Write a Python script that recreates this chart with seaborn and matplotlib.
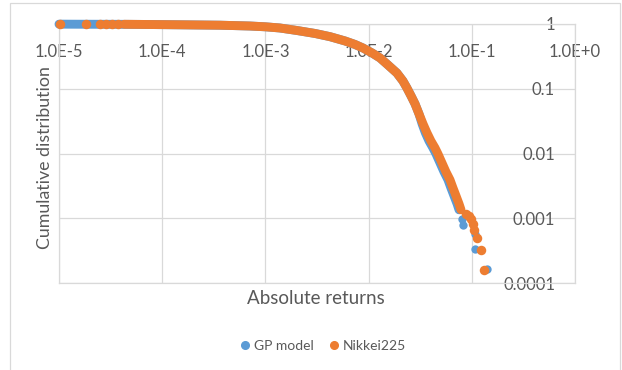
import matplotlib
matplotlib.use('Agg')
import matplotlib.pyplot as plt
import matplotlib.patches as patches
from matplotlib.lines import Line2D
from matplotlib.ticker import FixedLocator, FixedFormatter, NullLocator
import seaborn as sns
import pandas as pd

# absolute returns vs cumulative (survival) distribution
# dense part of each curve (drawn as a thick band)
nk_x = [4.27e-5, 6.10e-5, 1.49e-4, 3.63e-4, 7.09e-4, 1.0e-3, 1.38e-3, 2.02e-3, 3.03e-3,
        4.23e-3, 5.91e-3, 7.38e-3, 8.82e-3, 1.08e-2, 1.29e-2, 1.54e-2, 1.88e-2, 2.15e-2,
        2.35e-2, 2.58e-2, 2.82e-2, 3.08e-2, 3.37e-2, 3.68e-2, 4.02e-2, 4.40e-2, 4.70e-2,
        5.14e-2, 5.62e-2, 6.15e-2, 6.57e-2, 7.03e-2, 7.52e-2, 7.86e-2]
nk_y = [0.990, 0.985, 0.972, 0.958, 0.931, 0.905, 0.868, 0.794, 0.714,
        0.637, 0.547, 0.483, 0.426, 0.357, 0.299, 0.233, 0.175, 0.132,
        0.103, 0.0774, 0.0582, 0.0408, 0.0286, 0.0208, 0.0156, 0.0122, 0.00986,
        0.00716, 0.00520, 0.00392, 0.00294, 0.00222, 0.00167, 0.00135]
gp_x = [1.0e-5, 1.28e-5, 2.49e-5, 4.27e-5, 6.10e-5, 1.49e-4, 3.63e-4, 7.09e-4, 1.0e-3,
        1.38e-3, 2.02e-3, 3.03e-3, 4.23e-3, 5.91e-3, 7.38e-3, 8.82e-3, 1.08e-2, 1.29e-2,
        1.54e-2, 1.88e-2, 2.15e-2, 2.35e-2, 2.58e-2, 2.82e-2, 3.08e-2, 3.30e-2, 3.55e-2,
        3.85e-2, 4.20e-2, 4.50e-2, 4.92e-2, 5.38e-2, 5.88e-2, 6.28e-2, 6.72e-2, 7.20e-2,
        7.52e-2]
gp_y = [0.995, 0.993, 0.990, 0.988, 0.985, 0.972, 0.958, 0.931, 0.905,
        0.868, 0.794, 0.714, 0.637, 0.547, 0.483, 0.426, 0.357, 0.299,
        0.233, 0.175, 0.132, 0.103, 0.0774, 0.0582, 0.0408, 0.0286, 0.0208,
        0.0156, 0.0122, 0.00986, 0.00716, 0.00520, 0.00392, 0.00294, 0.00222, 0.00167,
        0.00135]

# isolated points (left end and extreme tail)
nk_pts_x = [1.02e-5, 1.83e-5, 2.49e-5, 2.85e-5, 3.26e-5, 3.73e-5,
            0.0879, 0.0940, 0.0983, 0.1028, 0.1050, 0.1122, 0.1227, 0.1312]
nk_pts_y = [0.995, 0.994, 0.993, 0.993, 0.992, 0.991,
            0.00117, 0.00109, 0.00098, 0.00082, 0.00066, 0.000499, 0.000325, 0.000160]
gp_pts_x = [0.0804, 0.0822, 0.1075, 0.1075, 0.1403]
gp_pts_y = [0.00098, 0.00079, 0.000574, 0.000337, 0.000166]

x_ticks = [1e-5, 1e-4, 1e-3, 1e-2, 1e-1, 1e0]
x_tick_labels = ['1.0E-5', '1.0E-4', '1.0E-3', '1.0E-2', '1.0E-1', '1.0E+0']
y_ticks = [1e-4, 1e-3, 1e-2, 1e-1, 1e0]
y_tick_labels = ['0.0001', '0.001', '0.01', '0.1', '1']

blue = '#5B9BD5'
orange = '#ED7D31'
grid_c = '#D9D9D9'
text_c = '#595959'

sns.set_theme(style='white')
plt.rcParams['font.family'] = ['Lato', 'DejaVu Sans']

fig = plt.figure(figsize=(6.22, 3.70), dpi=100)
ax = fig.add_axes([59 / 622, 1 - 283 / 370, 516 / 622, 259 / 370])

gp_line = pd.DataFrame({'x': gp_x, 'y': gp_y})
nk_line = pd.DataFrame({'x': nk_x, 'y': nk_y})
gp_pts = pd.DataFrame({'x': gp_pts_x, 'y': gp_pts_y})
nk_pts = pd.DataFrame({'x': nk_pts_x, 'y': nk_pts_y})

band_w = 6.4
dot_s = 36
sns.lineplot(data=gp_line, x='x', y='y', ax=ax, color=blue, linewidth=band_w,
             sort=False, estimator=None, solid_capstyle='round', solid_joinstyle='round',
             clip_on=False, zorder=3)
sns.scatterplot(data=gp_pts, x='x', y='y', ax=ax, color=blue, s=dot_s, linewidth=0,
                clip_on=False, zorder=3)
sns.lineplot(data=nk_line, x='x', y='y', ax=ax, color=orange, linewidth=band_w,
             sort=False, estimator=None, solid_capstyle='round', solid_joinstyle='round',
             clip_on=False, zorder=4)
sns.scatterplot(data=nk_pts, x='x', y='y', ax=ax, color=orange, s=dot_s * 1.3, linewidth=0,
                clip_on=False, zorder=5)

ax.set_xscale('log')
ax.set_yscale('log')
ax.set_xlim(1e-5, 1)
ax.set_ylim(1e-4, 1)

ax.xaxis.set_major_locator(FixedLocator(x_ticks))
ax.xaxis.set_major_formatter(FixedFormatter(x_tick_labels))
ax.yaxis.set_major_locator(FixedLocator(y_ticks))
ax.yaxis.set_major_formatter(FixedFormatter(y_tick_labels))
ax.xaxis.set_minor_locator(NullLocator())
ax.yaxis.set_minor_locator(NullLocator())

ax.grid(True, color=grid_c, linewidth=0.9)
ax.set_axisbelow(True)
for sp in ax.spines.values():
    sp.set_color(grid_c)
    sp.set_linewidth(0.9)

# x labels sit just under the top edge, y labels just left of the right edge
ax.xaxis.tick_top()
ax.tick_params(axis='x', length=0, pad=-20.2, labelsize=12, labelcolor=text_c)
ax.yaxis.tick_right()
ax.tick_params(axis='y', length=0, pad=-14.4, labelsize=12, labelcolor=text_c)
for lab in ax.get_yticklabels():
    lab.set_horizontalalignment('right')
for lab in ax.get_xticklabels():
    lab.set_verticalalignment('center')

ax.set_xlabel('')
ax.set_ylabel('')
fig.text(316 / 622, 1 - 298 / 370, 'Absolute returns', ha='center', va='center',
         fontsize=13.5, color=text_c)
fig.text(45 / 622, 1 - 158 / 370, 'Cumulative distribution', ha='center', va='center',
         rotation=90, fontsize=12.8, color=text_c)

handles = [Line2D([], [], marker='o', linestyle='', color=blue, markersize=5.5),
           Line2D([], [], marker='o', linestyle='', color=orange, markersize=5.5)]
fig.legend(handles, ['GP model', 'Nikkei225'], loc='center', ncol=2,
           bbox_to_anchor=(322 / 622, 1 - 346 / 370), frameon=False, fontsize=10,
           labelcolor=text_c, handletextpad=0.1, columnspacing=1.0, handlelength=1.0)

border = patches.Rectangle((10 / 622, -0.05), 610 / 622, 1.05 - 3 / 370,
                           transform=fig.transFigure, fill=False,
                           edgecolor=grid_c, linewidth=0.9, clip_on=False)
fig.patches.append(border)

fig.savefig('out.png', dpi=100, facecolor='white')
